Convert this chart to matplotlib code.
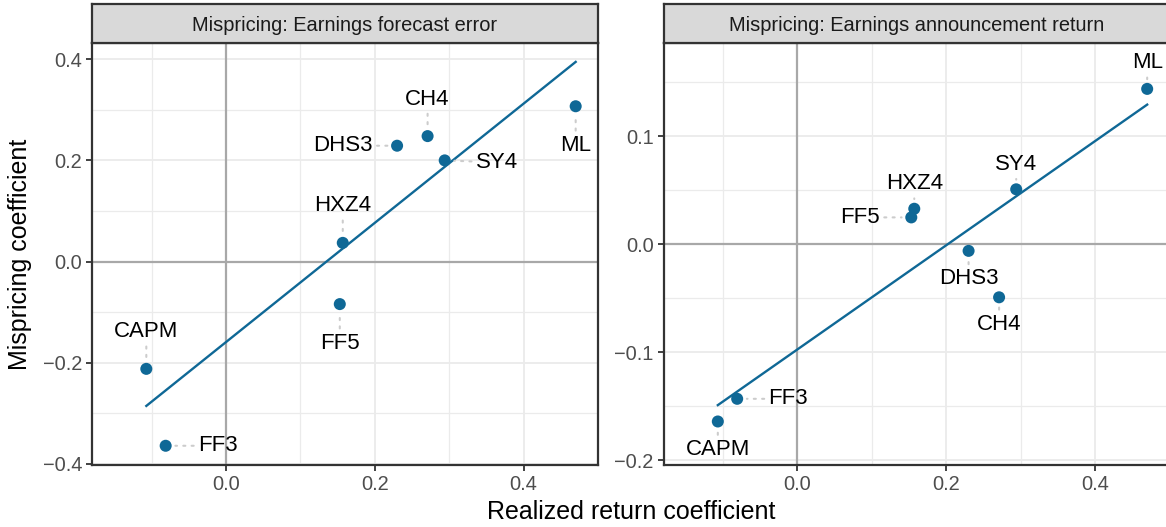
import numpy as np
import matplotlib.pyplot as plt
from matplotlib.ticker import MultipleLocator

plt.rcParams['font.family'] = ['Liberation Sans', 'DejaVu Sans']

# data
models = ['CAPM', 'FF3', 'FF5', 'HXZ4', 'DHS3', 'CH4', 'SY4', 'ML']
realized = [-0.107, -0.081, 0.153, 0.157, 0.230, 0.271, 0.294, 0.470]
mis_forecast = [-0.212, -0.364, -0.084, 0.037, 0.229, 0.248, 0.200, 0.307]
mis_announce = [-0.164, -0.143, 0.025, 0.033, -0.006, -0.049, 0.051, 0.144]

titles = ['Mispricing: Earnings forecast error',
          'Mispricing: Earnings announcement return']

# label offsets (pixels) like ggrepel placed them
offs_left = {'CAPM': (0, 37), 'FF3': (52, 0), 'FF5': (0, -39), 'HXZ4': (0, 37),
             'DHS3': (-54, 0), 'CH4': (0, 37), 'SY4': (52, -2), 'ML': (0, -39)}
offs_right = {'CAPM': (0, -28), 'FF3': (51, 0), 'FF5': (-51, 0), 'HXZ4': (0, 25),
              'DHS3': (0, -28), 'CH4': (0, -27), 'SY4': (0, 25), 'ML': (0, 26)}

W, H = 1166, 527
fig = plt.figure(figsize=(W / 100, H / 100), dpi=100)

blue = '#0F6896'
panels = [
    (92, mis_forecast, offs_left, (-0.402, 0.432), 0.2),
    (663.5, mis_announce, offs_right, (-0.2043, 0.1865), 0.1),
]

def px(x0, y0, w, h):
    return [x0 / W, 1 - (y0 + h) / H, w / W, h / H]

for i, (x0, yv, offs, ylim, ystep) in enumerate(panels):
    ax = fig.add_axes(px(x0, 43, 506, 422))
    ax.set_xlim(-0.180, 0.500)
    ax.set_ylim(*ylim)
    ax.xaxis.set_major_locator(MultipleLocator(0.2))
    ax.xaxis.set_minor_locator(MultipleLocator(0.1))
    ax.yaxis.set_major_locator(MultipleLocator(ystep))
    ax.yaxis.set_minor_locator(MultipleLocator(ystep / 2))
    ax.grid(True, which='major', color='#EBEBEB', lw=1.3, zorder=0)
    ax.grid(True, which='minor', color='#EBEBEB', lw=0.9, zorder=0)
    ax.set_axisbelow(True)
    ax.tick_params(which='minor', length=0)
    ax.tick_params(which='major', length=4, width=1.3, color='#333333',
                   labelsize=14.4, labelcolor='#4D4D4D', pad=3)
    ax.xaxis.set_major_formatter(lambda v, p: f'{v:.1f}'.replace('-', '\u2212'))
    ax.yaxis.set_major_formatter(lambda v, p: f'{v:.1f}'.replace('-', '\u2212'))
    for s in ax.spines.values():
        s.set_color('#333333')
        s.set_linewidth(1.6)

    ax.axhline(0, color='#A8A8A8', lw=1.6, zorder=1)
    ax.axvline(0, color='#A8A8A8', lw=1.6, zorder=1)

    xs = np.array(realized)
    ys = np.array(yv)
    k, b = np.polyfit(xs, ys, 1)
    xl = np.array([xs.min(), xs.max()])
    ax.plot(xl, k * xl + b, color=blue, lw=1.7, zorder=2)

    ax.scatter(xs, ys, s=75, color=blue, zorder=3, edgecolors='none')

    for m, x, y in zip(models, xs, ys):
        dx, dy = offs[m]
        ax.annotate(m, xy=(x, y), xytext=(dx, dy), textcoords='offset pixels',
                    ha='center', va='center', fontsize=16, color='black',
                    zorder=4,
                    arrowprops=dict(arrowstyle='-', color='#CCCCCC', lw=1.5,
                                    linestyle=(0, (1, 3)), shrinkA=1, shrinkB=7))

    # facet strip
    st = fig.add_axes(px(x0, 4, 506, 39))
    st.set_facecolor('#D9D9D9')
    st.set_xticks([])
    st.set_yticks([])
    for s in st.spines.values():
        s.set_color('#333333')
        s.set_linewidth(1.6)
    st.text(0.5, 0.45, titles[i], ha='center', va='center', fontsize=14.4,
            color='#1A1A1A', transform=st.transAxes)

fig.text(20 / W, 1 - 254 / H, 'Mispricing coefficient', rotation=90,
         ha='center', va='center', fontsize=18)
fig.text(631 / W, 1 - 512 / H, 'Realized return coefficient',
         ha='center', va='center', fontsize=18)

fig.savefig('out.png', dpi=100)
